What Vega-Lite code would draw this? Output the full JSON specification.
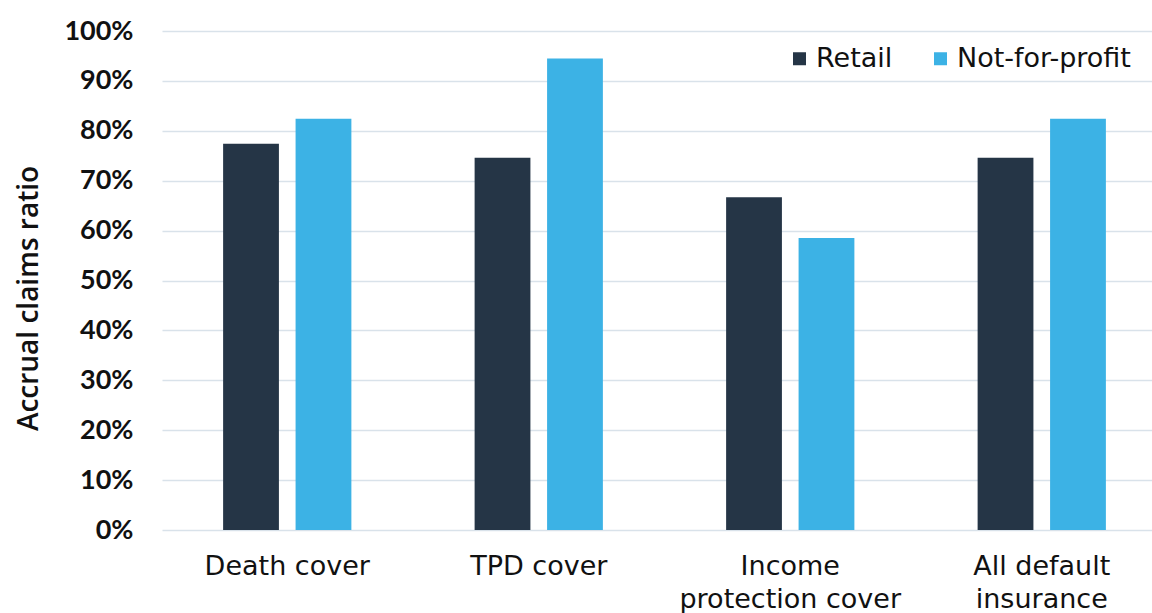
{
  "$schema": "https://vega.github.io/schema/vega-lite/v6.json",
  "autosize": "none",
  "width": 1005,
  "height": 499,
  "padding": {"left": 162, "top": 31, "right": -15, "bottom": 83},
  "background": "white",
  "data": {
    "values": [
      {"category": "Death cover", "sector": "Retail", "ratio": 0.774},
      {"category": "Death cover", "sector": "Not-for-profit", "ratio": 0.824},
      {"category": "TPD cover", "sector": "Retail", "ratio": 0.746},
      {"category": "TPD cover", "sector": "Not-for-profit", "ratio": 0.945},
      {"category": "Income protection cover", "sector": "Retail", "ratio": 0.667},
      {"category": "Income protection cover", "sector": "Not-for-profit", "ratio": 0.585},
      {"category": "All default insurance", "sector": "Retail", "ratio": 0.746},
      {"category": "All default insurance", "sector": "Not-for-profit", "ratio": 0.824}
    ]
  },
  "mark": {"type": "bar"},
  "encoding": {
    "x": {
      "field": "category",
      "type": "nominal",
      "sort": null,
      "scale": {"paddingInner": 0.49, "paddingOuter": 0.243},
      "axis": {
        "title": null,
        "domain": false,
        "ticks": false,
        "labelAngle": 0,
        "labelFont": "DejaVu Sans",
        "labelFontSize": 27,
        "labelColor": "#111111",
        "labelPadding": 23,
        "labelBaseline": "top",
        "labelLineHeight": 33,
        "labelLimit": 400,
        "labelOverlap": false,
        "labelExpr": "datum.value == 'Income protection cover' ? ['Income', 'protection cover'] : datum.value == 'All default insurance' ? ['All default', 'insurance'] : datum.value"
      }
    },
    "xOffset": {
      "field": "sector",
      "type": "nominal",
      "sort": ["Retail", "Not-for-profit"],
      "scale": {"paddingInner": 0.23, "paddingOuter": 0}
    },
    "y": {
      "field": "ratio",
      "type": "quantitative",
      "scale": {"domain": [0, 1]},
      "axis": {
        "format": ".0%",
        "values": [0, 0.1, 0.2, 0.3, 0.4, 0.5, 0.6, 0.7, 0.8, 0.9, 1],
        "labelOverlap": false,
        "domain": false,
        "ticks": false,
        "grid": true,
        "gridColor": "#d9e2ea",
        "gridWidth": 1.5,
        "labelFont": "Lato",
        "labelFontWeight": "bold",
        "labelFontSize": 27,
        "labelColor": "#111111",
        "labelPadding": 29,
        "title": "Accrual claims ratio",
        "titleFont": "Open Sans",
        "titleFontWeight": 600,
        "titleFontSize": 28,
        "titleColor": "#111111",
        "titleAnchor": "middle",
        "titleX": -133,
        "titleY": 267,
        "titleAngle": -90,
        "titleBaseline": "middle",
        "titleAlign": "center"
      }
    },
    "color": {
      "field": "sector",
      "type": "nominal",
      "sort": ["Retail", "Not-for-profit"],
      "scale": {"domain": ["Retail", "Not-for-profit"], "range": ["#253546", "#3cb2e5"]},
      "legend": {
        "title": null,
        "orient": "none",
        "direction": "horizontal",
        "legendX": 624,
        "legendY": 14,
        "symbolType": "square",
        "symbolSize": 169,
        "symbolStrokeWidth": 0,
        "labelFont": "DejaVu Sans",
        "labelFontSize": 27,
        "labelColor": "#111111",
        "labelOffset": 3,
        "labelLimit": 400,
        "columnPadding": 34
      }
    }
  },
  "config": {
    "view": {"stroke": null}
  }
}
